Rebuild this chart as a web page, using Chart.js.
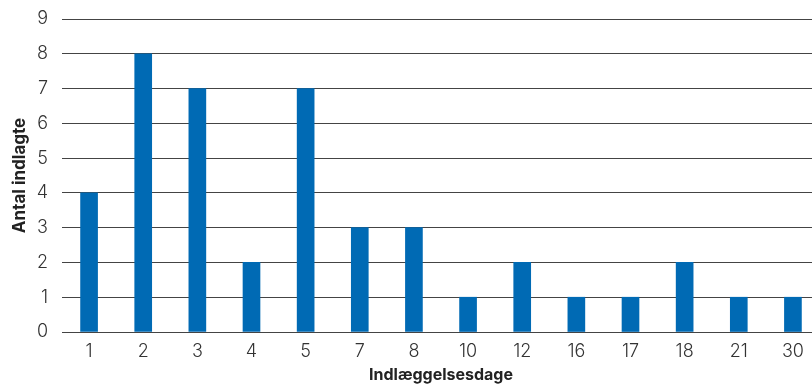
<!DOCTYPE html>
<html><head><meta charset="utf-8">
<script src="https://cdn.jsdelivr.net/npm/chart.js@4"></script>
<style>
html,body{margin:0;padding:0;overflow:hidden;background:#fff;}
#wrap{width:820px;height:385px;}
</style></head>
<body><div id="wrap"><canvas id="c"></canvas></div>
<script>
const categories = ["1","2","3","4","5","7","8","10","12","16","17","18","21","30"];
const values = [4,8,7,2,7,3,3,1,2,1,1,2,1,1];
const yTicks = [0,1,2,3,4,5,6,7,8,9];

new Chart(document.getElementById('c'), {
  type: 'bar',
  data: { labels: categories, datasets: [{ data: values, backgroundColor: '#006ab4', barThickness: 17 }] },
  options: {
    responsive: true, maintainAspectRatio: false, animation: false,
    layout: { padding: { top: 19, left: 0, right: 0, bottom: 0 } },
    plugins: { legend: { display: false }, tooltip: { enabled: false } },
    scales: {
      x: {
        grid: { display: false, drawTicks: false },
        border: { display: false },
        ticks: { color: '#333', font: { family: 'Inter', size: 18, weight: '300' }, padding: 9, maxRotation: 0 },
        title: { display: true, text: 'Indlæggelsesdage', color: '#222', font: { family: 'Inter', size: 16, weight: 'bold' }, padding: { top: 3, bottom: 0 } },
        afterFit: (s) => { s.height = 53; s.paddingLeft = 0; s.paddingRight = 0; }
      },
      y: {
        min: 0, max: 9,
        afterBuildTicks: (s) => { s.ticks = yTicks.map(v => ({ value: v })); },
        grid: { color: '#444', lineWidth: 1, drawTicks: false },
        border: { display: false },
        ticks: { color: '#333', font: { family: 'Inter', size: 18, weight: '300' }, padding: 14 },
        title: { display: true, text: 'Antal indlagte', color: '#222', font: { family: 'Inter', size: 17, weight: 'bold' }, padding: { top: 10, bottom: 0 } },
        afterFit: (s) => { s.width = 62; s.paddingTop = 0; s.paddingBottom = 0; }
      }
    }
  }
});
</script></body></html>
